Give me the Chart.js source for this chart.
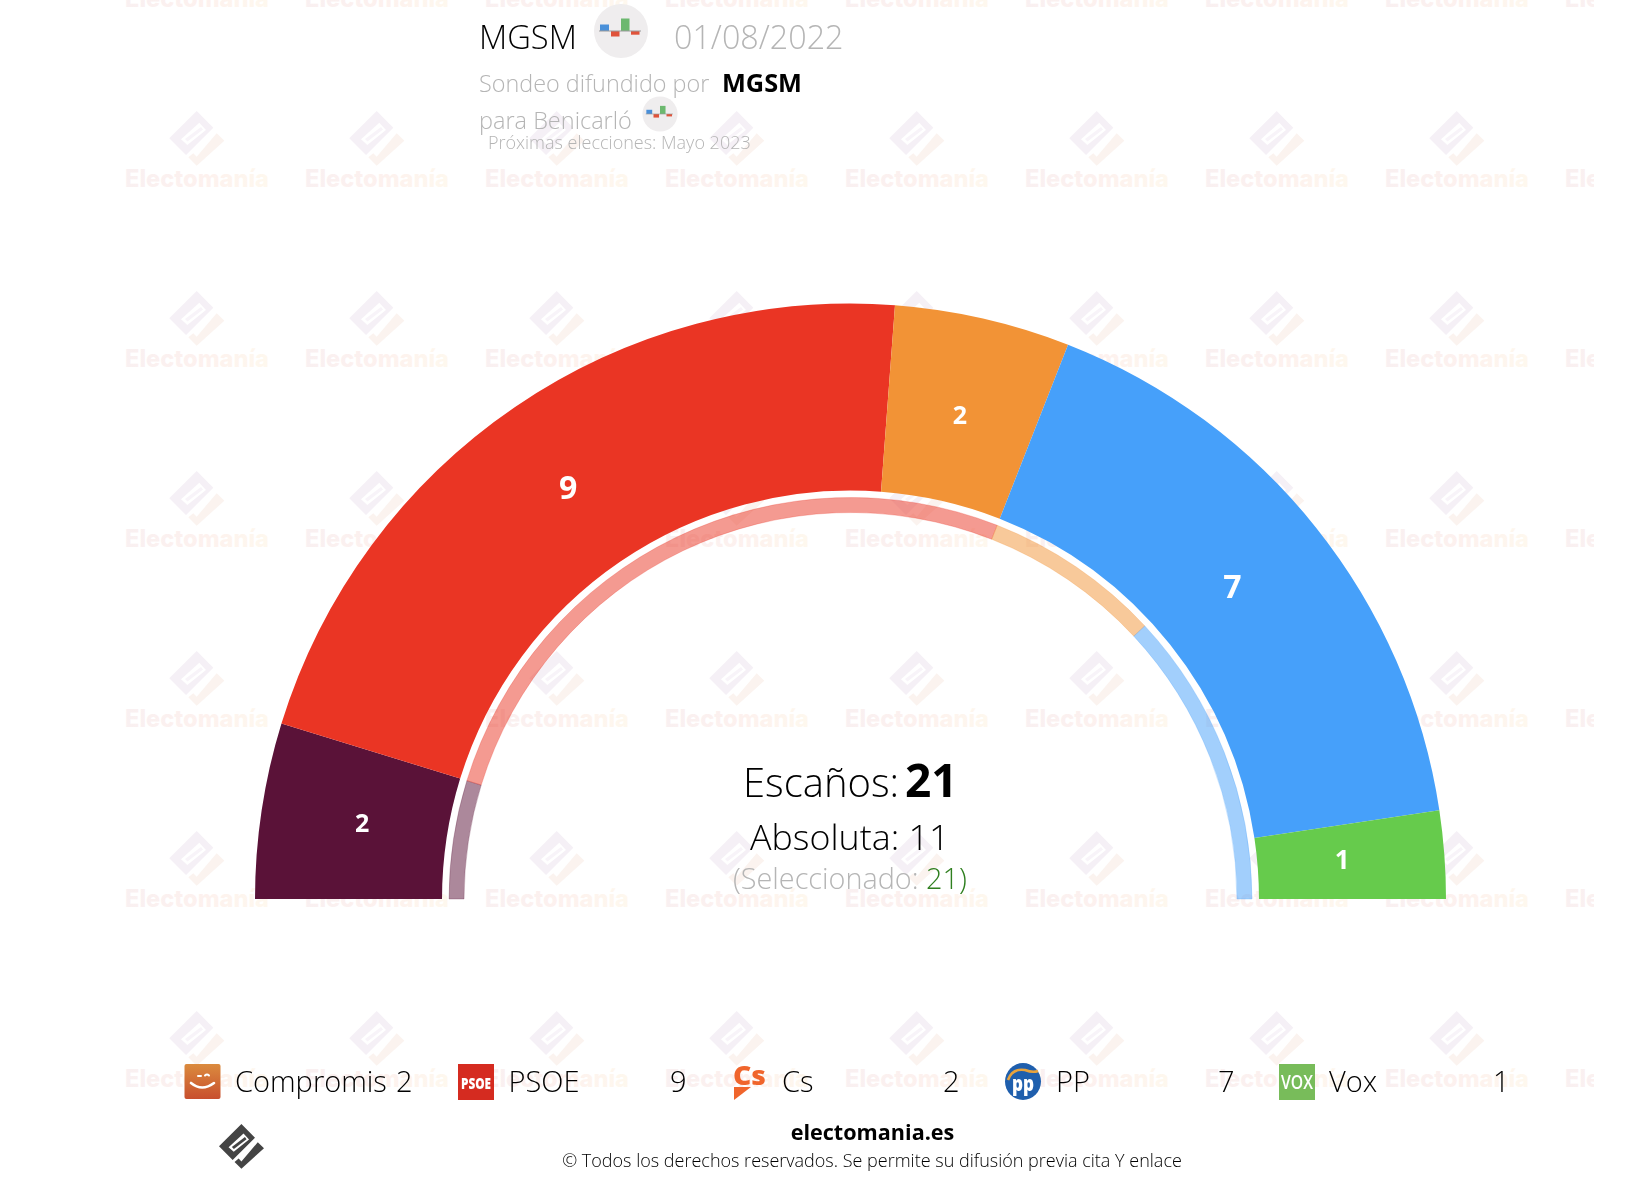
<!DOCTYPE html>
<html lang="es">
<head>
<meta charset="utf-8">
<title>MGSM Benicarló</title>
<script src="https://cdn.jsdelivr.net/npm/chart.js@4/dist/chart.umd.min.js"></script>
<style>
html,body{margin:0;padding:0;background:#fff;width:1638px;height:1182px;overflow:hidden}
#wm,#chart,#fg{position:absolute;left:0;top:0}
#wm{z-index:1}#chart{z-index:2}#fg{z-index:3}
text{font-family:"Open Sans",sans-serif;font-weight:300}
</style>
</head>
<body>
<svg id="wm" width="1594" height="1182" xmlns="http://www.w3.org/2000/svg"></svg>
<canvas id="chart" width="1638" height="1182" style="width:1638px;height:1182px"></canvas>
<svg id="fg" width="1638" height="1182" xmlns="http://www.w3.org/2000/svg"></svg>
<script>
const parties = ['Compromis','PSOE','Cs','PP','Vox'];
const seats = [2,9,2,7,1];
const innerSeats = [2,11,3,5,0];
const partyColors = ['#5a1238','#ea3524','#f29336','#46a0fa','#66cb4c'];
const innerColors = ['rgba(90,18,56,.5)','rgba(234,53,36,.5)','rgba(242,147,54,.5)','rgba(70,160,250,.5)','rgba(102,203,76,.5)'];
const innerBorders = ['rgba(90,18,56,.25)','rgba(234,53,36,.25)','rgba(242,147,54,.25)','rgba(70,160,250,.25)','rgba(102,203,76,.25)'];
const totalSeats = 21, majority = 11, selected = 21;

const NS='http://www.w3.org/2000/svg';
function el(parent,tag,attrs,txt){const e=document.createElementNS(NS,tag);for(const k in attrs)e.setAttribute(k,attrs[k]);if(txt!==undefined)e.textContent=txt;parent.appendChild(e);return e;}

/* watermark */
const wm=document.getElementById('wm');
const defs=el(wm,'defs',{});
const gt=el(defs,'linearGradient',{id:'wt',x1:'0',x2:'1',y1:'0',y2:'0'});
el(gt,'stop',{offset:'0','stop-color':'#f9f0f1'});el(gt,'stop',{offset:'.55','stop-color':'#fdf1ee'});el(gt,'stop',{offset:'1','stop-color':'#fef8ee'});
const DIAMOND='M196.7 111L169.3 138.3L186 155L213.3 127.7ZM181 139.3L187.3 145L206 130L199.3 122.7Z';
const CHECK='M188.3 157.3L193.3 153.3L196.7 156.7L216.7 133.3L224.3 140.7L196.7 165.7Z';
function logo(parent,tx,ty,s,c1,c2,c3){
  const g=el(parent,'g',{transform:`translate(${tx} ${ty}) scale(${s})`});
  el(g,'path',{d:DIAMOND,fill:c1,'fill-rule':'evenodd'});
  el(g,'path',{d:'M185 139L201 127L203 129.5L187.5 141.5Z',fill:c3});
  el(g,'path',{d:CHECK,fill:c2});
}
for(let j=-1;j<=5;j++){for(let i=0;i<=8;i++){
  const dx=180*i,dy=180*j;
  logo(wm,dx,dy,1,'#f5f0f6','#fbf3ef','#f8f4f9');
  const t=el(wm,'text',{x:125+dx,y:187.3+dy,fill:'url(#wt)',textLength:144,lengthAdjust:'spacingAndGlyphs','font-size':24},'Electomanía');
  t.style.fontWeight='800';t.style.fontFamily='Inter, "Open Sans", sans-serif';
}}

/* foreground text */
const fg=document.getElementById('fg');
function T(x,y,size,txt,fill,weight,anchor){const t=el(fg,'text',{x,y,'font-size':size,fill:fill||'#000','text-anchor':anchor||'start'},txt);t.style.fontWeight=weight||300;return t;}
function pollIcon(cx,cy,s){
  const g=el(fg,'g',{transform:`translate(${cx} ${cy}) scale(${s})`});
  el(g,'circle',{cx:0,cy:0,r:27,fill:'#efedee'});
  el(g,'rect',{x:-21,y:-6.5,width:9,height:6.5,fill:'#4a90d9'});
  el(g,'rect',{x:-10,y:0,width:8.5,height:5.5,fill:'#e0533a'});
  el(g,'rect',{x:0,y:-12.5,width:8.5,height:12.5,fill:'#6cb86f'});
  el(g,'rect',{x:10,y:0,width:8.5,height:3.7,fill:'#e0533a'});
  el(g,'rect',{x:-22,y:-.5,width:42,height:1,fill:'#9a9a9a'});
}
T(479,49,32.7,'MGSM','#000');
pollIcon(621,31,1);
T(674,49,32.3,'01/08/2022','#b5b5b5');
T(479,92,23.4,'Sondeo difundido por','#b5b5b5');
T(722,92,25.3,'MGSM','#000',700);
T(479,129,23.5,'para Benicarló','#b5b5b5');
pollIcon(660,114,.65);
T(488,149,18,'Próximas elecciones: Mayo 2023','#b5b5b5');

T(743,797,40,'Escaños:','#000');
T(905,797,46,String(totalSeats),'#000',700);
T(750,850,35.8,'Absoluta: '+majority,'#000');
const sel=T(733,889,28.8,'(Seleccionado: ','#b5b5b5');
el(sel,'tspan',{fill:'#2f7f1f'},String(selected));
el(sel,'tspan',{fill:'#2f7f1f'},')');

/* legend */
const nameX=[235,508.5,782,1056,1329];
const numX=[396,670,943,1218,1493];
parties.forEach((p,i)=>{T(nameX[i],1092,29,p,'#000');T(numX[i],1092,29,String(seats[i]),'#000');});
const fgDefs=el(fg,'defs',{});
const cg=el(fgDefs,'linearGradient',{id:'cmp',x1:'0',x2:'0',y1:'0',y2:'1'});
el(cg,'stop',{offset:'0','stop-color':'#db8b3e'});el(cg,'stop',{offset:'1','stop-color':'#c84f2e'});
el(fg,'rect',{x:184.5,y:1064,width:36,height:35,rx:2,fill:'url(#cmp)'});
el(fg,'path',{d:'M191 1083Q202 1092 214 1083',fill:'none',stroke:'#fff','stroke-width':2.6,'stroke-linecap':'round'});
el(fg,'path',{d:'M198 1076h3M205 1075.5q2 -2 4 0',fill:'none',stroke:'#fff','stroke-width':2,'stroke-linecap':'round'});
el(fg,'rect',{x:458,y:1064,width:36,height:36,fill:'#d52b20'});
const ps=el(fg,'text',{x:461,y:1089,'font-size':15,fill:'#fff',textLength:30,lengthAdjust:'spacingAndGlyphs'},'PSOE');ps.style.fontWeight=800;
const cs=el(fg,'text',{x:733,y:1085,'font-size':27,fill:'#f0652c',textLength:33,lengthAdjust:'spacingAndGlyphs'},'Cs');cs.style.fontWeight=800;
el(fg,'path',{d:'M734 1087H751L734 1100Z',fill:'#f0652c'});
el(fg,'ellipse',{cx:1023,cy:1081.5,rx:18,ry:18.5,fill:'#1f5fad'});
el(fg,'path',{d:'M1008 1080Q1012 1068 1025 1070Q1033 1073 1038 1071',fill:'none',stroke:'#e8a33d','stroke-width':2.6});
const pp=el(fg,'text',{x:1012,y:1091,'font-size':21,fill:'#fff',textLength:22,lengthAdjust:'spacingAndGlyphs'},'pp');pp.style.fontWeight=800;
el(fg,'rect',{x:1279,y:1064,width:36,height:36,fill:'#78bc5a'});
const vx=el(fg,'text',{x:1281,y:1089,'font-size':20,fill:'#fff',textLength:32,lengthAdjust:'spacingAndGlyphs'},'VOX');vx.style.fontWeight=600;

/* footer */
T(872.5,1140,21.6,'electomania.es','#000',700,'middle');
T(872,1167,18,'© Todos los derechos reservados. Se permite su difusión previa cita Y enlace','#000',300,'middle');
const s=45/55;
logo(fg,219-169.3*s,1124-111*s,s,'#444','#444','#444');

/* chart */
const nudges=[[2,0],[-3,1],[-1,1],[-6,-1],[-3,0]];
const seatLabels={id:'seatLabels',afterDatasetsDraw(chart){
  const {ctx}=chart;const meta=chart.getDatasetMeta(0);
  ctx.save();ctx.fillStyle='#fff';ctx.textAlign='center';ctx.textBaseline='middle';
  meta.data.forEach((a,i)=>{
    const ang=(a.startAngle+a.endAngle)/2,r=(a.innerRadius+a.outerRadius)/2-6;
    ctx.font=`700 ${seats[i]>=7?32:(seats[i]==1?26:25)}px "Open Sans"`;
    ctx.fillText(String(seats[i]),a.x+Math.cos(ang)*r+nudges[i][0],a.y+Math.sin(ang)*r+nudges[i][1]);
  });ctx.restore();
}};
new Chart(document.getElementById('chart'),{
  type:'doughnut',
  data:{labels:parties,datasets:[
    {label:'Escaños',data:seats,backgroundColor:partyColors,borderWidth:0,weight:187},
    {label:'',data:[1],backgroundColor:['rgba(0,0,0,0)'],borderWidth:0,weight:7},
    {label:'Referencia',data:innerSeats,backgroundColor:innerColors,borderColor:innerBorders,borderWidth:1,weight:15}
  ]},
  options:{
    responsive:false,animation:false,devicePixelRatio:1,
    rotation:-90,circumference:180,radius:595.5,cutout:'64.9%',
    layout:{padding:{left:255,right:192,top:303.5,bottom:283}},
    plugins:{legend:{display:false},tooltip:{enabled:false}}
  },
  plugins:[seatLabels]
});
</script>
</body>
</html>
